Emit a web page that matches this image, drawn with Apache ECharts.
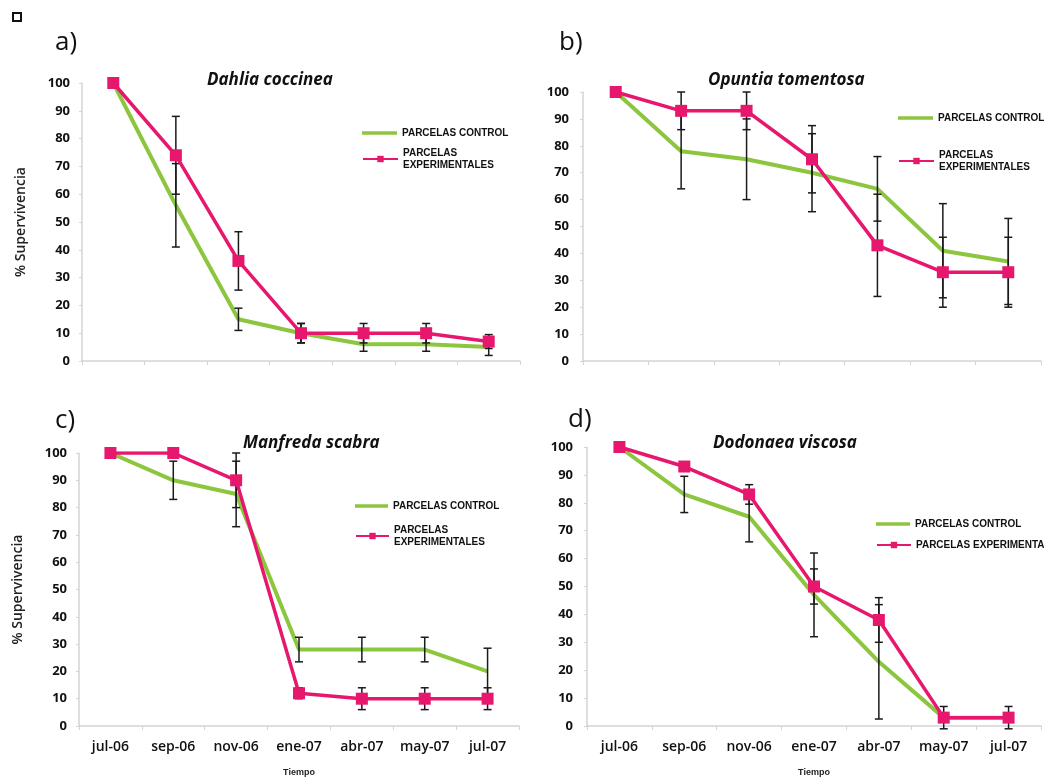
<!DOCTYPE html>
<html>
<head>
<meta charset="utf-8">
<title>Supervivencia</title>
<script src="https://cdn.jsdelivr.net/npm/echarts@6/dist/echarts.min.js"></script>
<style>
  html, body { margin: 0; background: #fff; }
  #main { width: 1044px; height: 778px; }
</style>
</head>
<body>
<div id="main"></div>
<script>
// fechas de muestreo
var months = ["jul-06", "sep-06", "nov-06", "ene-07", "abr-07", "may-07", "jul-07"];

// a) Dahlia coccinea
var dahliaControl = [100, 56, 15, 10, 6, 6, 5];
var dahliaControlErr = [0, 15, 4, 3.5, 2.5, 2.5, 3];
var dahliaExp = [100, 74, 36, 10, 10, 10, 7];
var dahliaExpErr = [0, 14, 10.5, 3.5, 3.5, 3.5, 2.5];

// b) Opuntia tomentosa
var opuntiaControl = [100, 78, 75, 70, 64, 41, 37];
var opuntiaControlErr = [0, 14, 15, 14.5, 12, 17.5, 16];
var opuntiaExp = [100, 93, 93, 75, 43, 33, 33];
var opuntiaExpErr = [0, 7, 7, 12.5, 19, 13, 13];

// c) Manfreda scabra
var manfredaControl = [100, 90, 85, 28, 28, 28, 20];
var manfredaControlErr = [0, 7, 12, 4.5, 4.5, 4.5, 8.5];
var manfredaExp = [100, 100, 90, 12, 10, 10, 10];
var manfredaExpErr = [0, 0, 10, 2, 4, 4, 4];

// d) Dodonaea viscosa
var dodonaeaControl = [100, 83, 75, 47, 23, 3, 3];
var dodonaeaControlErr = [0, 6.5, 9, 15, 20.5, 0, 0];
var dodonaeaExp = [100, 93, 83, 50, 38, 3, 3];
var dodonaeaExpErr = [0, 0, 3.5, 6.3, 8, 4, 4];

var panelLabels = ["a)", "b)", "c)", "d)"];
var species = ["Dahlia coccinea", "Opuntia tomentosa", "Manfreda scabra", "Dodonaea viscosa"];

var GREEN = "#8cc63f";
var PINK = "#e6176d";
var FONT = "'Open Sans', 'DejaVu Sans', sans-serif";
var NARROW = "'Liberation Sans Narrow', 'Liberation Sans', sans-serif";

var panels = [
  { control: dahliaControl, cErr: dahliaControlErr, exp: dahliaExp, eErr: dahliaExpErr },
  { control: opuntiaControl, cErr: opuntiaControlErr, exp: opuntiaExp, eErr: opuntiaExpErr },
  { control: manfredaControl, cErr: manfredaControlErr, exp: manfredaExp, eErr: manfredaExpErr },
  { control: dodonaeaControl, cErr: dodonaeaControlErr, exp: dodonaeaExp, eErr: dodonaeaExpErr }
];

var grids = [
  { left: 82, top: 83, width: 438, height: 278 },
  { left: 583, top: 92, width: 458, height: 269 },
  { left: 79, top: 453, width: 440, height: 274 },
  { left: 587, top: 447, width: 454, height: 280 }
];

function errData(vals, errs) {
  var out = [];
  for (var i = 0; i < vals.length; i++) {
    if (errs[i] > 0) out.push([i, vals[i] - errs[i], vals[i] + errs[i]]);
  }
  return out;
}

function renderErr(params, api) {
  var lo = api.coord([api.value(0), api.value(1)]);
  var hi = api.coord([api.value(0), api.value(2)]);
  var cap = 4;
  var st = { stroke: "#1a1a1a", lineWidth: 1.5 };
  return {
    type: "group",
    children: [
      { type: "line", shape: { x1: lo[0], y1: lo[1], x2: hi[0], y2: hi[1] }, style: st },
      { type: "line", shape: { x1: lo[0] - cap, y1: lo[1], x2: lo[0] + cap, y2: lo[1] }, style: st },
      { type: "line", shape: { x1: hi[0] - cap, y1: hi[1], x2: hi[0] + cap, y2: hi[1] }, style: st }
    ]
  };
}

var xAxes = [], yAxes = [], series = [], titles = [], legends = [];

panels.forEach(function (p, k) {
  var bottomRow = k >= 2;
  var leftCol = k % 2 === 0;
  xAxes.push({
    type: "category",
    gridIndex: k,
    data: months,
    axisLine: { lineStyle: { color: "#d4d4d4", width: 1.5 } },
    axisTick: { show: true, length: 4, lineStyle: { color: "#d4d4d4" } },
    axisLabel: {
      show: bottomRow, interval: 0, margin: 14, color: "#111",
      fontFamily: FONT, fontSize: 14, fontWeight: 600
    },
    name: bottomRow ? "Tiempo" : "",
    nameLocation: "middle",
    nameGap: 42,
    nameTextStyle: { fontFamily: NARROW, fontSize: 9, fontWeight: "bold", color: "#222" }
  });
  yAxes.push({
    type: "value",
    gridIndex: k,
    min: 0, max: 100, interval: 10,
    splitLine: { show: false },
    axisLine: { show: true, lineStyle: { color: "#d4d4d4", width: 1.5 } },
    axisTick: { show: true, length: 3, lineStyle: { color: "#d4d4d4" } },
    axisLabel: {
      margin: leftCol ? 12 : 14, color: "#111",
      fontFamily: FONT, fontSize: 13, fontWeight: 700
    },
    name: leftCol ? "% Supervivencia" : "",
    nameLocation: "middle",
    nameGap: 54,
    nameRotate: 90,
    nameTextStyle: { fontFamily: FONT, fontSize: 14, fontWeight: 600, color: "#222" }
  });

  series.push({
    name: "PARCELAS CONTROL",
    type: "line",
    xAxisIndex: k, yAxisIndex: k,
    data: p.control,
    symbol: "none",
    lineStyle: { color: GREEN, width: 4 },
    itemStyle: { color: GREEN },
    z: 2
  });
  series.push({
    type: "custom",
    xAxisIndex: k, yAxisIndex: k,
    data: errData(p.control, p.cErr).concat(errData(p.exp, p.eErr)),
    renderItem: renderErr,
    silent: true,
    z: 3
  });
  series.push({
    name: "PARCELAS EXPERIMENTALES",
    type: "line",
    xAxisIndex: k, yAxisIndex: k,
    data: p.exp,
    symbol: "rect",
    symbolSize: 12,
    lineStyle: { color: PINK, width: 3.5 },
    itemStyle: { color: PINK },
    z: 4
  });
});

// etiquetas de panel y nombres de especie
var labelPos = [[55, 30], [559, 30], [55, 408], [568, 407]];
var titlePos = [[207, 72], [708, 72], [243, 435], [713, 435]];
for (var i = 0; i < 4; i++) {
  titles.push({
    text: panelLabels[i], left: labelPos[i][0], top: labelPos[i][1], padding: 0,
    textStyle: { fontFamily: FONT, fontSize: 26, fontWeight: "normal", color: "#111" }
  });
  titles.push({
    text: species[i], left: titlePos[i][0], top: titlePos[i][1], padding: 0,
    textStyle: { fontFamily: FONT, fontSize: 17, fontWeight: "bold", fontStyle: "italic", color: "#111" }
  });
}

// leyendas: [x, y control, y experimental, itemWidth, una sola línea]
var legendPos = [
  [362, 133, 159, 35, false],
  [898, 118, 161, 35, false],
  [355, 506, 536, 33, false],
  [876, 524, 545, 34, true]
];
var lineIcon = "path://M0,0 L10,0 L10,1 L0,1 Z";
legendPos.forEach(function (lp) {
  var base = {
    orient: "vertical", padding: 0, itemHeight: 8, itemWidth: lp[3],
    selectedMode: false,
    textStyle: { fontFamily: NARROW, fontSize: 10, fontWeight: "bold", color: "#111", lineHeight: 12 }
  };
  legends.push(Object.assign({}, base, {
    left: lp[0], top: lp[1] - 6,
    data: [{ name: "PARCELAS CONTROL", icon: lineIcon, itemStyle: { color: GREEN } }]
  }));
  if (lp[4]) {
    legends.push(Object.assign({}, base, {
      left: lp[0], top: lp[2] - 6,
      data: ["PARCELAS EXPERIMENTALES"]
    }));
  } else {
    legends.push(Object.assign({}, base, {
      left: lp[0], top: lp[2] - 18,
      data: ["PARCELAS EXPERIMENTALES"],
      formatter: function (name) { return name.replace(" ", "\n"); },
      textStyle: Object.assign({}, base.textStyle, { padding: [12, 0, 0, 0] })
    }));
  }
});

var chart = echarts.init(document.getElementById("main"));
var option = {
  backgroundColor: "#fff",
  animation: false,
  title: titles,
  legend: legends,
  grid: grids,
  xAxis: xAxes,
  yAxis: yAxes,
  series: series,
  graphic: [{
    type: "rect", left: 12, top: 12,
    shape: { width: 8, height: 8 },
    style: { fill: "#fff", stroke: "#111", lineWidth: 2 }
  }]
};
chart.setOption(option);
</script>
</body>
</html>
